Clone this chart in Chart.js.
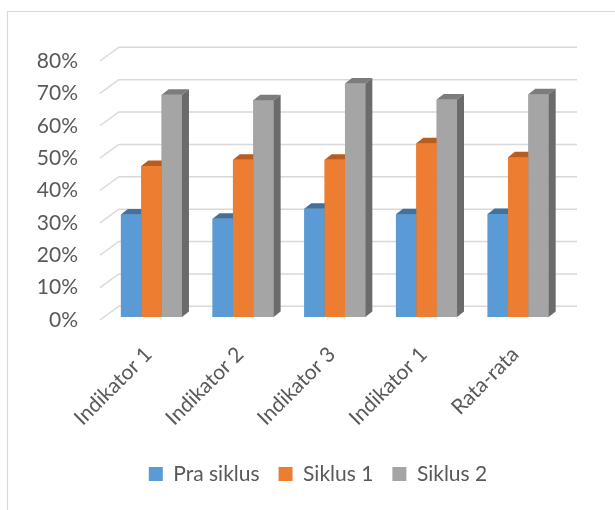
<!DOCTYPE html>
<html>
<head>
<meta charset="utf-8">
<script src="https://cdn.jsdelivr.net/npm/chart.js@4/dist/chart.umd.min.js"></script>
<style>
  html, body { margin: 0; padding: 0; background: #fff; }
</style>
</head>
<body>
<canvas id="chart" width="615" height="510"></canvas>
<script>
const categories = ["Indikator 1", "Indikator 2", "Indikator 3", "Indikator 1", "Rata-rata"]
const seriesNames = ["Pra siklus", "Siklus 1", "Siklus 2"]
const praSiklus = [31.6, 30.3, 33.4, 31.7, 31.8]
const siklus1 = [46.6, 48.5, 48.5, 53.6, 49.3]
const siklus2 = [68.6, 66.9, 72.0, 67.1, 68.7]
const tickValues = [0, 10, 20, 30, 40, 50, 60, 70, 80]

const frontColors = ["#5b9bd5", "#ed7d31", "#a5a5a5"]
const topColors = ["#41719c", "#b85d1f", "#7c7c7c"]
const sideColors = ["#41719c", "#ae5a21", "#6b6b6b"]

// fake 3d look: bar depth and back wall offset, in px
const depthX = 7, depthY = 5.5
const wallX = 19, wallY = 13.7
const legendShift = 36
const textColor = "#595959"
const gridColor = "#d9d9d9"

Chart.defaults.font.family = "Lato"
Chart.defaults.color = textColor

const fake3d = {
    id: 'fake3d',
    afterLayout(chart) {
        // legend sits centred under the plot, not under the whole canvas
        chart.legend.left += legendShift
        chart.legend.right += legendShift
    },
    beforeDraw(chart) {
        const ctx = chart.ctx
        ctx.save()
        ctx.fillStyle = "#fff"
        ctx.fillRect(0, 0, chart.width, chart.height)
        ctx.strokeStyle = gridColor
        ctx.lineWidth = 1.2
        ctx.beginPath()
        ctx.moveTo(7.5, chart.height)
        ctx.lineTo(7.5, 11.5)
        ctx.lineTo(chart.width, 11.5)
        ctx.stroke()
        ctx.restore()
    },
    beforeDatasetsDraw(chart) {
        const ctx = chart.ctx
        const y = chart.scales.y
        const area = chart.chartArea
        const left = area.left - 5.7
        ctx.save()
        ctx.strokeStyle = gridColor
        ctx.lineWidth = 1.4
        tickValues.forEach(v => {
            const py = y.getPixelForValue(v)
            ctx.beginPath()
            ctx.moveTo(left, py)
            ctx.lineTo(left + wallX, py - wallY)
            ctx.lineTo(area.right + 13, py - wallY)
            ctx.stroke()
        })
        ctx.restore()
    },
    // redraw every bar left to right so each one hides the side of the one before
    afterDatasetsDraw(chart) {
        const ctx = chart.ctx
        ctx.save()
        for (let k = 0; k < categories.length; k++) {
            for (let i = 0; i < seriesNames.length; i++) {
                const bar = chart.getDatasetMeta(i).data[k]
                const p = bar.getProps(['x', 'y', 'base', 'width'], true)
                const x0 = p.x - p.width / 2
                const x1 = p.x + p.width / 2
                ctx.fillStyle = frontColors[i]
                ctx.fillRect(x0, p.y, p.width, p.base - p.y)
                // top face
                ctx.fillStyle = topColors[i]
                ctx.beginPath()
                ctx.moveTo(x0, p.y)
                ctx.lineTo(x1, p.y)
                ctx.lineTo(x1 + depthX, p.y - depthY)
                ctx.lineTo(x0 + depthX, p.y - depthY)
                ctx.closePath()
                ctx.fill()
                // right side
                ctx.fillStyle = sideColors[i]
                ctx.beginPath()
                ctx.moveTo(x1, p.y)
                ctx.lineTo(x1 + depthX, p.y - depthY)
                ctx.lineTo(x1 + depthX, p.base - depthY)
                ctx.lineTo(x1, p.base)
                ctx.closePath()
                ctx.fill()
            }
        }
        ctx.restore()
    }
}

const seriesData = [praSiklus, siklus1, siklus2]

const ctx = document.getElementById("chart").getContext('2d')
const chart = new Chart(ctx, {
    type: 'bar',
    data: {
        labels: categories,
        datasets: seriesNames.map((name, i) => ({
            label: name,
            data: seriesData[i],
            backgroundColor: frontColors[i],
            borderWidth: 0,
            yAxisID: 'yBar',
            categoryPercentage: 0.666,
            barPercentage: 1
        }))
    },
    options: {
        responsive: false,
        animation: false,
        layout: {
            padding: { top: 61, right: 51, bottom: 15.5, left: 0 }
        },
        scales: {
            x: {
                grid: { display: false },
                border: { display: false },
                ticks: {
                    autoSkip: false,
                    maxRotation: 45,
                    minRotation: 45,
                    padding: 14,
                    labelOffset: -3,
                    font: { size: 21 }
                },
                afterFit(scale) { scale.height = 124.5 }
            },
            y: {
                min: 0,
                max: 80,
                grid: { display: false },
                border: { display: false },
                afterBuildTicks(scale) { scale.ticks = tickValues.map(v => ({ value: v })) },
                ticks: {
                    padding: 19.6,
                    font: { size: 21 },
                    callback: v => v + "%"
                },
                afterFit(scale) { scale.width = 105.6 }
            },
            yBar: {
                display: false,
                min: -0.93,
                max: 78.98
            }
        },
        plugins: {
            legend: {
                position: 'bottom',
                labels: {
                    boxWidth: 14,
                    boxHeight: 14,
                    padding: 19,
                    color: textColor,
                    font: { size: 21 }
                }
            },
            tooltip: { enabled: false }
        }
    },
    plugins: [fake3d]
})
</script>
</body>
</html>
